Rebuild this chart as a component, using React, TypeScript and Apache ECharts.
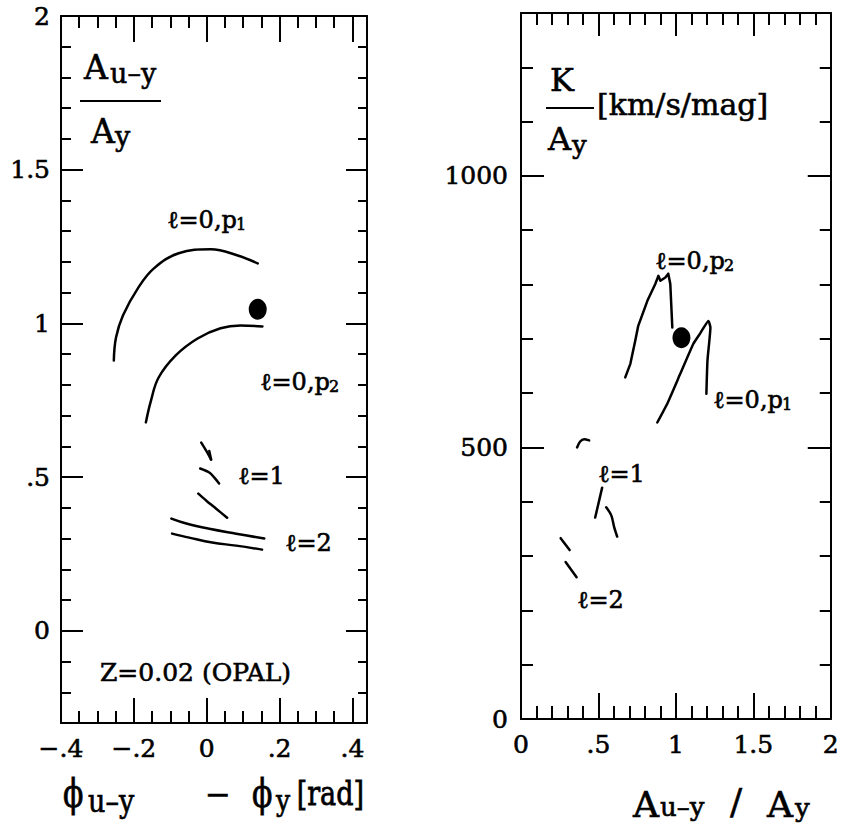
import React, { useEffect, useRef } from 'react';
import * as echarts from 'echarts';

// ---------- Left panel: phase difference [rad] (x) vs amplitude ratio A(u-y)/A(y) (y)
const leftP1 = [[-0.255, 0.879], [-0.249, 0.954], [-0.230, 1.026], [-0.189, 1.114], [-0.145, 1.179], [-0.077, 1.228], [0.011, 1.241], [0.085, 1.221], [0.140, 1.195]];
const leftP2 = [[-0.167, 0.678], [-0.153, 0.749], [-0.132, 0.824], [-0.085, 0.896], [-0.025, 0.951], [0.038, 0.984], [0.093, 0.993], [0.153, 0.990]];
const leftL1a = [[-0.015, 0.612], [0.004, 0.575], [0.012, 0.557]];
const leftL1aHook = [[0.007, 0.585], [0.012, 0.557]];
const leftL1b = [[-0.018, 0.528], [0.007, 0.515], [0.021, 0.498], [0.034, 0.479]];
const leftL1c = [[-0.023, 0.446], [-0.001, 0.423], [0.026, 0.397], [0.056, 0.368]];
const leftL2a = [[-0.097, 0.365], [-0.056, 0.349], [0.007, 0.332], [0.081, 0.316], [0.158, 0.300]];
const leftL2b = [[-0.095, 0.316], [-0.048, 0.303], [0.015, 0.287], [0.081, 0.277], [0.152, 0.264]];
const leftObs = [[0.140, 1.046]];

// ---------- Right panel: A(u-y)/A(y) (x) vs K/A(y) [km/s/mag] (y)
const rightP2 = [[0.673, 629], [0.706, 654], [0.738, 697], [0.757, 724], [0.816, 770], [0.867, 801], [0.887, 816], [0.900, 807], [0.932, 813], [0.951, 820], [0.964, 801], [0.977, 721]];
const rightP1 = [[0.880, 546], [0.945, 581], [1.029, 636], [1.113, 691], [1.159, 711], [1.210, 733], [1.223, 721], [1.204, 660], [1.197, 599]];
const rightL1a = [[0.524, 426], [0.479, 371]];
const rightL1b = [[0.550, 390], [0.583, 375], [0.602, 353], [0.621, 336]];
const rightL1c = [[0.362, 500], [0.382, 511], [0.408, 515], [0.440, 513]];
const rightL2a = [[0.256, 333], [0.314, 311]];
const rightL2b = [[0.288, 289], [0.359, 261]];
const rightObs = [[1.036, 702]];

// ---------- Axis ranges / ticks
const leftXRange = [-0.4, 0.44];
const leftXSteps = [0.2, 0.05];
const leftYRange = [-0.3, 2];
const leftYSteps = [0.5, 0.1];
const rightXRange = [0, 2];
const rightXSteps = [0.5, 0.1];
const rightYRange = [0, 1300];
const rightYSteps = [500, 100];

const FONT = 'DejaVu Serif';
const BLACK = '#000';
const TEXT_STROKE = 0.6;

const isMult = (v: number, s: number) => Math.abs(v / s - Math.round(v / s)) < 1e-6;
const noLead = (v: number) => {
  const r = Math.round(v * 1000) / 1000;
  if (r === 0) return '0';
  let s = Math.abs(r).toString();
  if (s.startsWith('0.')) s = s.slice(1);
  return (r < 0 ? '\u2212' : '') + s;
};
const makeFmt = (range: number[], step: number) => (v: number) => {
  if (!isMult(v, step)) return '';
  if (v < range[0] - 1e-9 || v > range[1] + 1e-9) return '';
  return noLead(v);
};

type AxCfg = {
  dim: 'x' | 'y';
  grid: number;
  range: number[];
  steps: number[];
  margin: number;
  majorLen: number;
  minorLen: number;
  majorLenMirror: number;
  minorLenMirror: number;
  niceMajor?: boolean;
};

function makeAxes(c: AxCfg) {
  const [major, minor] = c.steps;
  const pos = c.dim === 'x' ? ['bottom', 'top'] : ['left', 'right'];
  const tickStyle = { color: BLACK, width: 2 };
  const majorScale = c.niceMajor
    ? { splitNumber: 5, minInterval: major, maxInterval: major }
    : { interval: major };
  const base = {
    type: 'value',
    gridIndex: c.grid,
    min: c.range[0],
    max: c.range[1],
    splitLine: { show: false },
  };
  const axes: any[] = [];
  [0, 1].forEach((side) => {
    axes.push({
      ...base,
      ...majorScale,
      position: pos[side],
      axisLine: { show: true, onZero: false, lineStyle: { color: BLACK, width: 2 } },
      axisTick: { show: true, inside: true, length: side === 0 ? c.majorLen : c.majorLenMirror, lineStyle: tickStyle },
      axisLabel: side === 0
        ? {
            show: true,
            margin: c.margin,
            formatter: makeFmt(c.range, major),
            color: BLACK,
            fontFamily: FONT,
            fontSize: 25,
            textBorderColor: BLACK,
            textBorderWidth: TEXT_STROKE,
            showMinLabel: true,
            showMaxLabel: true,
          }
        : { show: false },
    });
    axes.push({
      ...base,
      interval: minor,
      position: pos[side],
      axisLine: { show: false, onZero: false },
      axisTick: { show: true, inside: true, length: side === 0 ? c.minorLen : c.minorLenMirror, lineStyle: tickStyle },
      axisLabel: { show: false },
    });
  });
  // order: primary, primary-minor, mirror, mirror-minor
  return axes;
}

const line = (data: number[][], xi: number, yi: number, smooth: number | boolean) => ({
  type: 'line',
  data,
  xAxisIndex: xi,
  yAxisIndex: yi,
  symbol: 'none',
  showSymbol: false,
  smooth,
  silent: true,
  lineStyle: { color: BLACK, width: 2.5, cap: 'round', join: 'round' },
});

const dot = (data: number[][], xi: number, yi: number) => ({
  type: 'scatter',
  data,
  xAxisIndex: xi,
  yAxisIndex: yi,
  symbol: 'circle',
  symbolSize: [18, 21],
  silent: true,
  itemStyle: { color: BLACK, opacity: 1 },
});

const txt = (x: number, y: number, text: string, fontSize: number, align = 'left', scaleY = 1) => ({
  type: 'text',
  x,
  y,
  scaleY,
  silent: true,
  style: {
    text,
    fill: BLACK,
    stroke: BLACK,
    lineWidth: TEXT_STROKE,
    fontFamily: FONT,
    fontSize,
    align,
    verticalAlign: 'middle',
    textAlign: align,
    textVerticalAlign: 'middle',
  },
});

const hline = (x1: number, x2: number, y: number) => ({
  type: 'line',
  silent: true,
  shape: { x1, y1: y, x2, y2: y },
  style: { stroke: BLACK, lineWidth: 2 },
});

// label "l=0,p_n" as main text + subscript
const modeLabel = (x: number, y: number, main: string, sub?: string) => {
  const els: any[] = [txt(x, y, main, 24)];
  if (sub) els.push(txt(x + 69, y + 4, sub, 16));
  return els;
};

export default function App() {
  const ref = useRef<HTMLDivElement>(null);
  useEffect(() => {
    if (!ref.current) return;
    const chart = echarts.init(ref.current, undefined, { renderer: 'svg' });
    const xAxes = [
      ...makeAxes({ dim: 'x', grid: 0, range: leftXRange, steps: leftXSteps, margin: 13, majorLen: 25, minorLen: 12, majorLenMirror: 26, minorLenMirror: 12 }),
      ...makeAxes({ dim: 'x', grid: 1, range: rightXRange, steps: rightXSteps, margin: 13, majorLen: 26, minorLen: 13, majorLenMirror: 23, minorLenMirror: 12 }),
    ];
    const yAxes = [
      ...makeAxes({ dim: 'y', grid: 0, range: leftYRange, steps: leftYSteps, margin: 11, majorLen: 22, minorLen: 10, majorLenMirror: 21, minorLenMirror: 9, niceMajor: true }),
      ...makeAxes({ dim: 'y', grid: 1, range: rightYRange, steps: rightYSteps, margin: 13, majorLen: 23, minorLen: 12, majorLenMirror: 23, minorLenMirror: 11 }),
    ];
    const option: any = {
      animation: false,
      backgroundColor: '#fff',
      grid: [
        { left: 61, top: 16, width: 306, height: 707, show: false },
        { left: 521, top: 13, width: 311, height: 706, show: false },
      ],
      xAxis: xAxes,
      yAxis: yAxes,
      series: [
        line(leftP1, 0, 0, 0.4),
        line(leftP2, 0, 0, 0.4),
        line(leftL1a, 0, 0, 0.3),
        line(leftL1aHook, 0, 0, false),
        line(leftL1b, 0, 0, 0.3),
        line(leftL1c, 0, 0, 0.3),
        line(leftL2a, 0, 0, 0.4),
        line(leftL2b, 0, 0, 0.4),
        dot(leftObs, 0, 0),
        line(rightP2, 4, 4, false),
        line(rightP1, 4, 4, 0.15),
        line(rightL1a, 4, 4, false),
        line(rightL1b, 4, 4, 0.3),
        line(rightL1c, 4, 4, 0.3),
        line(rightL2a, 4, 4, false),
        line(rightL2b, 4, 4, false),
        dot(rightObs, 4, 4),
      ],
      graphic: {
        elements: [
          // left inner y-title: A(u-y) / A(y)
          txt(84, 67, 'A', 33),
          txt(110, 73, 'u\u2013y', 27),
          hline(80, 161, 101),
          txt(91, 131, 'A', 33),
          txt(115, 136, 'y', 27),
          // right inner y-title: K / A(y) [km/s/mag]
          txt(550, 80, 'K', 32),
          hline(546, 594, 108),
          txt(597, 104, '[km/s/mag]', 30),
          txt(548, 139, 'A', 32),
          txt(572, 145, 'y', 26),
          // left curve labels
          ...modeLabel(167, 220, '\u2113=0,p', '1'),
          ...modeLabel(260, 382, '\u2113=0,p', '2'),
          ...modeLabel(238, 476, '\u2113=1'),
          ...modeLabel(285, 543, '\u2113=2'),
          txt(100, 672, 'Z=0.02 (OPAL)', 25),
          // right curve labels
          ...modeLabel(655, 261, '\u2113=0,p', '2'),
          ...modeLabel(713, 400, '\u2113=0,p', '1'),
          ...modeLabel(598, 474, '\u2113=1'),
          ...modeLabel(577, 600, '\u2113=2'),
          // left x-axis title
          txt(63, 794, '\u03d5', 30, 'left', 1.3),
          txt(88, 801, 'u\u2013y', 27, 'left', 1.2),
          txt(205, 794, '\u2212', 31),
          txt(252, 794, '\u03d5', 30, 'left', 1.3),
          txt(276, 801, 'y', 25, 'left', 1.2),
          txt(364, 793, '[rad]', 27, 'right', 1.25),
          // right x-axis title
          txt(633, 804, 'A', 36),
          txt(660, 807, 'u\u2013y', 26),
          txt(730, 801, '/', 36),
          txt(767, 804, 'A', 36),
          txt(795, 808, 'y', 26),
        ],
      },
    };
    chart.setOption(option);
    return () => chart.dispose();
  }, []);
  return (
    <div
      ref={ref}
      style={{ position: 'fixed', left: 0, top: 0, width: 842, height: 830, background: '#fff' }}
    />
  );
}
